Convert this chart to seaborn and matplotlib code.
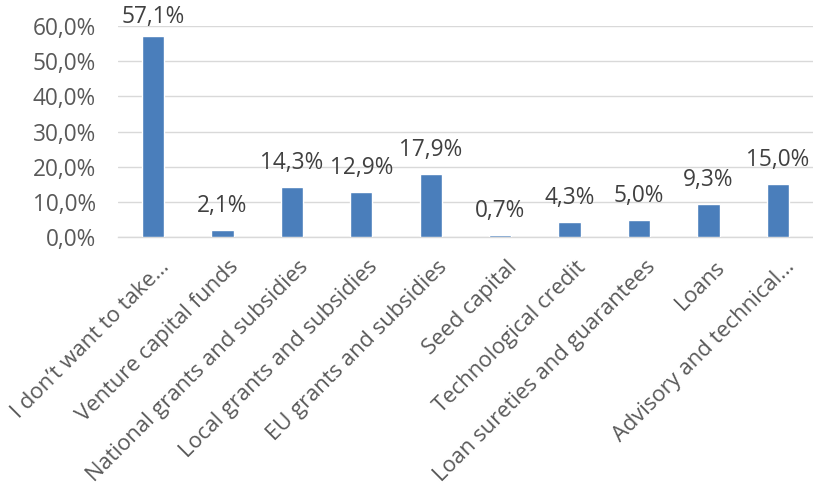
import matplotlib
matplotlib.use("Agg")
import matplotlib.pyplot as plt
import matplotlib.transforms as mtransforms
import seaborn as sns
import pandas as pd

categories = [
    "I don’t want to take…",
    "Venture capital funds",
    "National grants and subsidies",
    "Local grants and subsidies",
    "EU grants and subsidies",
    "Seed capital",
    "Technological credit",
    "Loan sureties and guarantees",
    "Loans",
    "Advisory and technical…",
]
values = [57.1, 2.1, 14.3, 12.9, 17.9, 0.7, 4.3, 5.0, 9.3, 15.0]
yticks = [0, 10, 20, 30, 40, 50, 60]

sns.set_theme(style="white")
plt.rcParams["font.family"] = ["Open Sans", "DejaVu Sans"]

df = pd.DataFrame({"cat": categories, "val": values})
fig = plt.figure(figsize=(8.13, 4.88), dpi=100)
ax = fig.add_axes([0.1455, 0.514, 0.854, 0.433])

sns.barplot(data=df, x="cat", y="val", color="#4A7EBB", width=0.32,
            saturation=1, ax=ax, zorder=3)

text_col = "#595959"
ax.set_ylim(0, 60)
ax.set_yticks(yticks)
ax.set_yticklabels([f"{t:.1f}%".replace(".", ",") for t in yticks],
                   fontsize=16.3, color=text_col)
ax.yaxis.grid(True, color="#D9D9D9", linewidth=1, zorder=0)
ax.set_xlabel("")
ax.set_ylabel("")
ax.tick_params(axis="y", length=0, pad=16)
ax.tick_params(axis="x", length=0, pad=14)
ax.set_xticks(range(len(categories)))
ax.set_xticklabels(categories, rotation=45, ha="right", va="top",
                   rotation_mode="anchor", fontsize=15.8, color=text_col)
shift = mtransforms.ScaledTranslation(6 / 100, 0, fig.dpi_scale_trans)
for lbl in ax.get_xticklabels():
    lbl.set_transform(lbl.get_transform() + shift)
for s in ["top", "right", "left"]:
    ax.spines[s].set_visible(False)
ax.spines["bottom"].set_color("#D9D9D9")
ax.spines["bottom"].set_linewidth(1)

ytop = ax.get_ylim()[1]
for p, v in zip(ax.patches, values):
    x = p.get_x() + p.get_width() / 2
    if v > ytop - 5:
        y, off = ytop, 2
    else:
        y, off = p.get_height(), 13
    ax.annotate(f"{v:.1f}%".replace(".", ","), (x, y),
                xytext=(0, off), textcoords="offset points",
                ha="center", va="baseline", fontsize=16.3, color="#404040",
                annotation_clip=False)

fig.savefig("out.png", dpi=100)
